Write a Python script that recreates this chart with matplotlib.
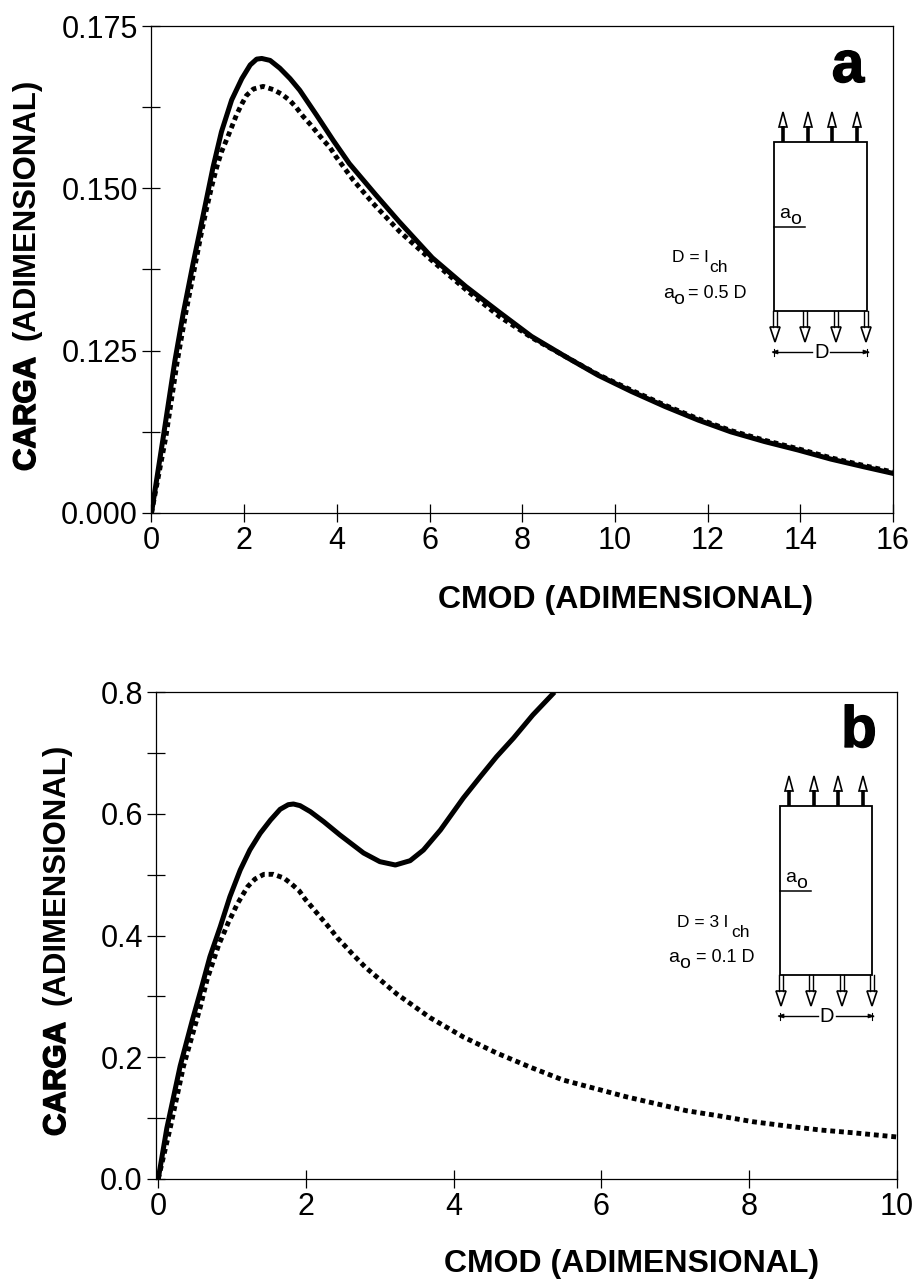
import matplotlib
matplotlib.use('Agg')
import matplotlib.pyplot as plt
import matplotlib.patheffects as pe
from matplotlib.patches import Polygon, Rectangle

plt.rcParams['font.family'] = ['Liberation Sans', 'DejaVu Sans']

W, H = 914, 1280

# panel a: the axis is broken, the bottom tick (0.100 position) is labelled 0.000
a_solid_x = [0, 0.255, 0.507, 0.687, 0.90, 1.05, 1.154, 1.33, 1.51, 1.73, 1.95, 2.13, 2.27, 2.38, 2.56, 2.77, 2.99,
             3.2, 3.56, 3.92, 4.27, 4.84, 5.34, 6.06, 6.78, 7.49, 8.2, 8.93, 9.64, 10.36, 11.08, 11.8, 12.5, 13.23,
             13.95, 14.66, 15.38, 16]
a_solid_y = [0.1, 0.1117, 0.1235, 0.1308, 0.1385, 0.1436, 0.1472, 0.1533, 0.1587, 0.1636, 0.1669, 0.1690, 0.1699,
             0.1700, 0.1697, 0.1685, 0.1669, 0.1651, 0.1613, 0.1574, 0.1538, 0.1490, 0.1449, 0.1393, 0.1349, 0.1310,
             0.1272, 0.1241, 0.1212, 0.1187, 0.1164, 0.1143, 0.1125, 0.1110, 0.1097, 0.1083, 0.1071, 0.1061]
a_dot_x = [0, 0.31, 0.56, 0.74, 0.95, 1.09, 1.18, 1.30, 1.41, 1.51, 1.61, 1.69, 1.84, 1.95, 2.05, 2.20, 2.41, 2.63,
           2.81, 2.99, 3.13, 3.27, 3.42, 3.56, 3.71, 3.85, 3.97, 4.35, 4.78, 5.36, 6.08, 6.8, 7.52, 8.23, 8.93, 9.64,
           10.36, 11.08, 11.8, 12.5, 13.23, 13.95, 14.66, 15.38, 16]
a_dot_y = [0.1, 0.1117, 0.1235, 0.1308, 0.1385, 0.1436, 0.1466, 0.1503, 0.1533, 0.1556, 0.1573, 0.1587, 0.1614,
           0.1630, 0.1643, 0.1653, 0.1657, 0.1652, 0.1645, 0.1635, 0.1624, 0.1611, 0.1599, 0.1587, 0.1574, 0.1563,
           0.1550, 0.1513, 0.1477, 0.1433, 0.1387, 0.1343, 0.1302, 0.1269, 0.1241, 0.1213, 0.1189, 0.1166, 0.1145,
           0.1127, 0.1112, 0.1099, 0.1085, 0.1073, 0.1063]
a_xticks = [0, 2, 4, 6, 8, 10, 12, 14, 16]
a_yticks = [0.1, 0.125, 0.15, 0.175]
a_ylabels = ['0.000', '0.125', '0.150', '0.175']
a_yminor = [0.1125, 0.1375, 0.1625]

# panel b
b_solid_x = [0, 0.117, 0.297, 0.46, 0.59, 0.70, 0.84, 0.97, 1.11, 1.24, 1.38, 1.52, 1.65, 1.76, 1.83, 1.92, 2.06,
             2.24, 2.46, 2.78, 3.0, 3.21, 3.41, 3.59, 3.82, 4.13, 4.36, 4.58, 4.81, 5.07, 5.34]
b_solid_y = [0, 0.0837, 0.1855, 0.2600, 0.3160, 0.3652, 0.4145, 0.4637, 0.5076, 0.5404, 0.5678, 0.5897, 0.6073,
             0.6149, 0.6160, 0.6133, 0.6034, 0.5870, 0.5651, 0.5355, 0.5213, 0.5158, 0.5229, 0.5404, 0.5733, 0.6259,
             0.6609, 0.6937, 0.7244, 0.7622, 0.7967]
b_dot_x = [0, 0.162, 0.343, 0.568, 0.66, 0.75, 0.82, 0.91, 0.95, 1.01, 1.07, 1.14, 1.21, 1.31, 1.43, 1.56, 1.70,
           1.81, 1.91, 1.99, 2.08, 2.17, 2.26, 2.35, 2.43, 2.53, 2.62, 2.8, 3.23, 3.68, 4.13, 4.58, 5.03, 5.48, 5.94,
           6.33, 6.70, 7.15, 7.6, 8.05, 8.51, 8.96, 9.4, 10]
b_dot_y = [0, 0.0837, 0.1855, 0.2817, 0.3269, 0.3597, 0.3850, 0.4100, 0.4217, 0.4364, 0.4517, 0.4660, 0.4802, 0.4928,
           0.5005, 0.5005, 0.4945, 0.4841, 0.4731, 0.4595, 0.4468, 0.4337, 0.4210, 0.4079, 0.3954, 0.3827, 0.3708,
           0.3483, 0.3039, 0.265, 0.2333, 0.207, 0.184, 0.1626, 0.1478, 0.1352, 0.1248, 0.1122, 0.1035, 0.0941, 0.087,
           0.0805, 0.076, 0.069]
b_xticks = [0, 2, 4, 6, 8, 10]
b_yticks = [0.0, 0.2, 0.4, 0.6, 0.8]
b_ylabels = ['0.0', '0.2', '0.4', '0.6', '0.8']
b_yminor = [0.1, 0.3, 0.5, 0.7]


def make_axes(left, right, top, bottom):
    ax = fig.add_axes([left / W, 1 - bottom / H, (right - left) / W, (bottom - top) / H])
    for s in ax.spines.values():
        s.set_linewidth(0.9)
    ax.tick_params(which='both', direction='inout', length=13, width=0.9, labelsize=22, pad=3)
    return ax


def draw_curves(ax, sx, sy, dx, dy):
    ax.plot(dx, dy, color='black', lw=3.5, linestyle=(0, (1, 0.8)), dash_capstyle='butt')
    ax.plot(sx, sy, color='black', lw=3.6, solid_joinstyle='round')


def ylabel(x, y_carga, y_adim):
    # CARGA is printed heavier than the rest of the label
    ov.text(x, y_carga, 'CARGA', rotation=90, ha='center', va='bottom', fontsize=22.4, fontweight='bold',
            path_effects=[pe.withStroke(linewidth=1.1, foreground='black')])
    ov.text(x, y_adim, '(ADIMENSIONAL)', rotation=90, ha='center', va='bottom', fontsize=22.4, fontweight='bold')


def schematic(x0, x1, y0, y1):
    # specimen sketch, in pixels of the figure
    ov.add_patch(Rectangle((x0, y0), x1 - x0, y1 - y0, fill=False, ec='black', lw=1.3))
    for off in [9, 34, 58, 83]:
        x = x0 + off
        ov.plot([x, x], [y0, y0 - 16], color='black', lw=2.6, solid_capstyle='butt')
        ov.add_patch(Polygon([(x - 4, y0 - 15), (x + 4, y0 - 15), (x, y0 - 30)], fc='white', ec='black', lw=1.2))
    for off in [1, 31, 62, 92]:
        x = x0 + off
        ov.plot([x - 1.8, x - 1.8], [y1, y1 + 16], color='black', lw=1.0)
        ov.plot([x + 1.8, x + 1.8], [y1, y1 + 16], color='black', lw=1.0)
        ov.add_patch(Polygon([(x - 5, y1 + 16), (x + 5, y1 + 16), (x, y1 + 31)], fc='white', ec='black', lw=1.2))
    ym = y1 + 41
    ov.plot([x0 - 1, x0 + 38], [ym, ym], color='black', lw=1.0)
    ov.plot([x0 + 56, x1 + 1], [ym, ym], color='black', lw=1.0)
    ov.add_patch(Polygon([(x0 - 2, ym), (x0 + 4, ym - 2), (x0 + 4, ym + 2)], fc='black', ec='black', lw=0.5))
    ov.add_patch(Polygon([(x1 + 2, ym), (x1 - 4, ym - 2), (x1 - 4, ym + 2)], fc='black', ec='black', lw=0.5))
    ov.plot([x0, x0], [ym - 3, ym + 4], color='black', lw=0.8)
    ov.plot([x1, x1], [ym - 3, ym + 4], color='black', lw=0.8)
    ov.text((x0 + x1) / 2 + 1, ym + 1, 'D', ha='center', va='center', fontsize=14.5)
    ov.plot([x0, x0 + 31], [y0 + 85, y0 + 85], color='black', lw=1.1)
    ov.text(x0 + 5, y0 + 76, 'a', ha='left', va='baseline', fontsize=14)
    ov.text(x0 + 16, y0 + 82, 'o', ha='left', va='baseline', fontsize=14)


fig = plt.figure(figsize=(W / 100, H / 100), dpi=100)

ax_a = make_axes(151, 893, 26, 513)
draw_curves(ax_a, a_solid_x, a_solid_y, a_dot_x, a_dot_y)
ax_a.set_xlim(-0.01, 16)
ax_a.set_ylim(0.1, 0.175)
ax_a.set_xticks(a_xticks)
ax_a.set_yticks(a_yticks, a_ylabels)
ax_a.set_yticks(a_yminor, minor=True)

ax_b = make_axes(156, 897, 692, 1179)
draw_curves(ax_b, b_solid_x, b_solid_y, b_dot_x, b_dot_y)
ax_b.set_xlim(-0.03, 10)
ax_b.set_ylim(0, 0.8)
ax_b.set_xticks(b_xticks)
ax_b.set_yticks(b_yticks, b_ylabels)
ax_b.set_yticks(b_yminor, minor=True)

# overlay in figure pixels for the labels and sketches
ov = fig.add_axes([0, 0, 1, 1], facecolor='none')
ov.set_xlim(0, W)
ov.set_ylim(H, 0)
ov.axis('off')

ov.text(626, 600, 'CMOD (ADIMENSIONAL)', ha='center', va='center', fontsize=23, fontweight='bold')
ov.text(632, 1264, 'CMOD (ADIMENSIONAL)', ha='center', va='center', fontsize=23, fontweight='bold')
ylabel(27, 471, 340)
ylabel(57, 1136, 1005)

letter_fx = [pe.withStroke(linewidth=1.0, foreground='black')]
ov.text(848, 82, 'a', ha='center', va='baseline', fontsize=42, fontweight='bold', path_effects=letter_fx)
ov.text(859, 747, 'b', ha='center', va='baseline', fontsize=42, fontweight='bold', path_effects=letter_fx)

schematic(774, 867, 142, 311)
schematic(780, 872, 806, 975)

ov.text(672, 262, 'D = l', ha='left', va='baseline', fontsize=12.5)
ov.text(709, 272, 'ch', ha='left', va='baseline', fontsize=12.5)
ov.text(663, 298, 'a', ha='left', va='baseline', fontsize=14)
ov.text(673, 304, 'o', ha='left', va='baseline', fontsize=14)
ov.text(688, 298, '= 0.5 D', ha='left', va='baseline', fontsize=13)

ov.text(677, 927, 'D = 3 l', ha='left', va='baseline', fontsize=12.5)
ov.text(731, 937, 'ch', ha='left', va='baseline', fontsize=12.5)
ov.text(668, 962, 'a', ha='left', va='baseline', fontsize=14)
ov.text(679, 968, 'o', ha='left', va='baseline', fontsize=14)
ov.text(696, 962, '= 0.1 D', ha='left', va='baseline', fontsize=13)

fig.savefig('out.png', dpi=100)
